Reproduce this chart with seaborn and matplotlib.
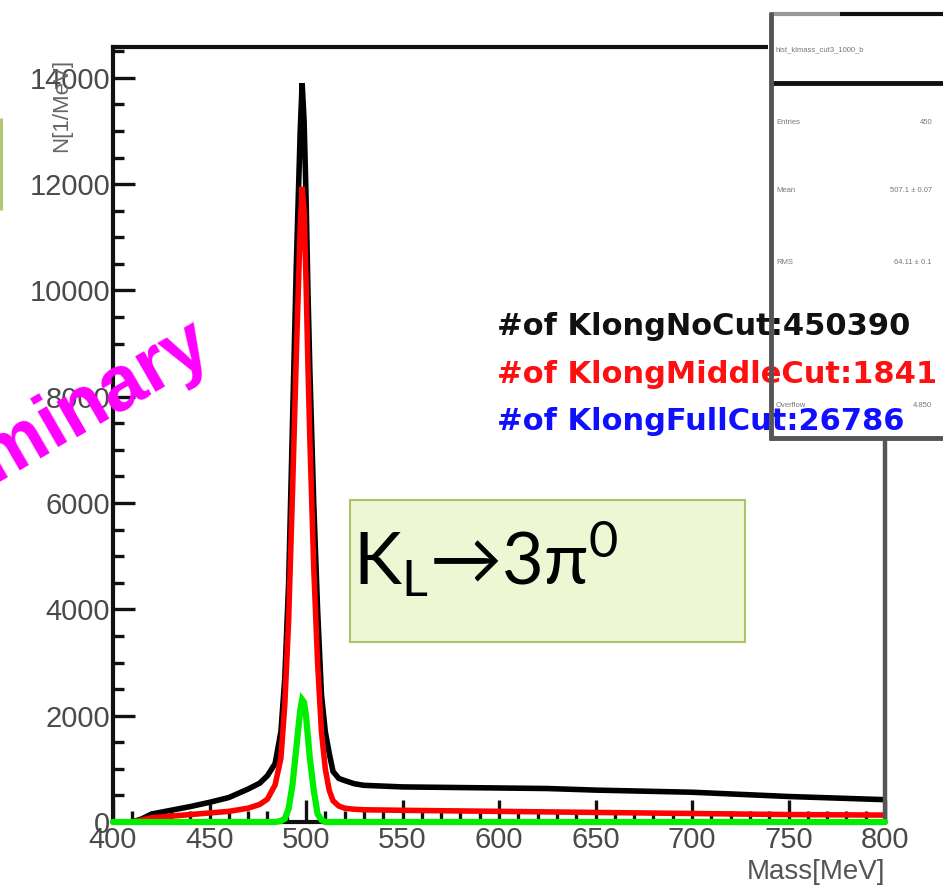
import numpy as np
import pandas as pd
import matplotlib
matplotlib.use("Agg")
import matplotlib.pyplot as plt
import seaborn as sns
from matplotlib.patches import Rectangle
from matplotlib.lines import Line2D

# ---- data ----
mass = [400, 405, 410, 415, 420, 430, 440, 450, 460, 470, 476, 480, 484, 487, 489,
        491, 493, 495, 497, 498, 499, 500, 501, 502, 504, 506, 508, 510, 512, 514,
        517, 520, 525, 530, 550, 575, 600, 625, 650, 675, 700, 725, 750, 775, 800]
no_cut = [0, 0, 0, 60, 150, 220, 290, 370, 460, 620, 730, 870, 1100, 1700, 2700,
          4500, 7500, 10500, 13000, 13900, 13200, 11800, 10000, 8500, 6000, 4000, 2400, 1700, 1300, 950,
          820, 780, 720, 690, 660, 650, 640, 630, 600, 580, 560, 520, 480, 450, 420]
middle_cut = [0, 0, 0, 40, 80, 110, 140, 170, 200, 260, 330, 430, 700, 1200, 2200,
              3800, 6200, 8800, 11200, 11950, 11500, 10200, 8600, 7200, 4800, 3000, 1700, 1000, 600, 400,
              300, 260, 240, 230, 220, 210, 200, 190, 180, 170, 160, 150, 140, 135, 130]
full_cut = [0, 0, 0, 0, 0, 0, 0, 0, 0, 0, 0, 0, 0, 20, 60,
            250, 700, 1400, 2100, 2300, 2250, 2000, 1600, 1200, 600, 150, 40, 0, 0, 0,
            0, 0, 0, 0, 0, 0, 0, 0, 0, 0, 0, 0, 0, 0, 0]
series_names = ["NoCut", "MiddleCut", "FullCut"]
series_colors = ["#000000", "#ff0000", "#00ee00"]
x_ticks = [400, 450, 500, 550, 600, 650, 700, 750, 800]
y_ticks = [0, 2000, 4000, 6000, 8000, 10000, 12000, 14000]
legend_lines = ["#of KlongNoCut:450390", "#of KlongMiddleCut:1841", "#of KlongFullCut:26786"]
legend_colors = ["#111111", "#ff1010", "#1010ff"]

W, H = 943, 888
sns.set_style("white")
plt.rcParams["font.family"] = ["Liberation Sans", "DejaVu Sans"]

fig = plt.figure(figsize=(W / 100, H / 100), dpi=100)
ax = fig.add_axes([113 / W, 1 - 822 / H, (885 - 113) / W, (822 - 47) / H])

df = pd.concat([pd.DataFrame({"mass": mass, "counts": v, "cut": n})
                for v, n in zip([no_cut, middle_cut, full_cut], series_names)], ignore_index=True)
sns.lineplot(data=df, x="mass", y="counts", hue="cut", hue_order=series_names,
             palette=dict(zip(series_names, series_colors)), linewidth=4.0,
             legend=False, ax=ax, estimator=None, sort=False, errorbar=None)
for i, ln in enumerate(ax.lines):
    ln.set_zorder(2 + i * 0.3)
    ln.set_solid_joinstyle("miter")
ax.lines[2].set_clip_on(False)
ax.lines[2].set_linewidth(4.5)
ax.lines[2].set_zorder(3.5)

ax.set_xlim(400, 800)
ax.set_ylim(0, 14580)
ax.set_xticks(x_ticks)
ax.set_yticks(y_ticks)
ax.set_xticklabels([str(t) for t in x_ticks])
ax.set_yticklabels([str(t) for t in y_ticks])
ax.set_xticks(np.arange(400, 801, 10), minor=True)
ax.set_yticks(np.arange(0, 14581, 500), minor=True)
ax.tick_params(which="major", direction="in", length=16, width=2.4, colors="#111111",
               labelcolor="#4a4a4a", labelsize=21, pad=2, top=False, right=False,
               left=True, bottom=True)
ax.tick_params(which="minor", direction="in", length=8, width=2.4, colors="#111111",
               top=False, right=False, left=True, bottom=True)
ax.tick_params(axis="x", which="major", pad=3)
ax.set_xlabel("")
ax.set_ylabel("")
for s in ["left", "bottom", "top"]:
    ax.spines[s].set_color("#111111")
    ax.spines[s].set_linewidth(3)
ax.spines["right"].set_color("#555555")
ax.spines["right"].set_linewidth(3.2)

# axis titles
fig.text(885 / W, 1 - 872 / H, "Mass[MeV]", ha="right", va="center", fontsize=20, color="#555555")
fig.text(62 / W, 1 - 105 / H, "N[1/MeV]", ha="center", va="center", rotation=90,
         fontsize=16, color="#666666")

# stats box (ROOT style), cut at right edge
fig.patches.append(Rectangle((768 / W, 1 - 440 / H), 1.0, (440 - 14) / H,
                             transform=fig.transFigure, facecolor="white", edgecolor="none", zorder=5))
def fline(x0, y0, x1, y1, color, lw, z=8):
    fig.lines.append(Line2D([x0 / W, x1 / W], [1 - y0 / H, 1 - y1 / H], transform=fig.transFigure,
                            color=color, linewidth=lw, zorder=z, solid_capstyle="butt"))
fline(770, 14, 840, 14, "#999999", 3)
fline(840, 14, 943, 14, "#111111", 3)
fline(770, 83, 943, 83, "#111111", 3.5)
fline(771, 12, 771, 440, "#555555", 3.5)
fline(769, 438, 943, 438, "#555555", 3.5)
stats_txt = [(50, "hist_klmass_cut3_1000_b", None), (122, "Entries", "450"),
             (190, "Mean", "507.1 ± 0.07"), (262, "RMS", "64.11 ± 0.1"), (405, "Overflow", "4.850")]
for y, lab, val in stats_txt:
    fig.text(776 / W, 1 - y / H, lab, ha="left", va="center", fontsize=5.5, color="#777777", zorder=6)
    if val:
        fig.text(932 / W, 1 - y / H, val, ha="right", va="center", fontsize=5.5, color="#777777", zorder=6)

# legend lines of text
for i, (t, c) in enumerate(zip(legend_lines, legend_colors)):
    fig.text(497 / W, 1 - (326 + 48 * i) / H, t, ha="left", va="center", fontsize=22,
             fontweight="bold", family=["DejaVu Sans"], color=c, zorder=6)

# K_L -> 3pi0 box
fig.patches.append(Rectangle((350 / W, 1 - 642 / H), 395 / W, 142 / H, transform=fig.transFigure,
                             facecolor="#eef7d3", edgecolor="#a9c46a", linewidth=1.5, zorder=4))
fig.text(353 / W, 1 - 585 / H, r"K$_\mathregular{L}$→3π$^\mathregular{0}$", ha="left", va="baseline",
         fontsize=52, color="#000000", family=["Lato", "DejaVu Sans"], zorder=6)

# "Preliminary" stamp (cut at left edge)
fig.text(215 / W, 1 - 355 / H, "Preliminary", ha="right", va="baseline", rotation=30,
         rotation_mode="anchor", fontsize=56, fontweight="bold", color="#ff00ff", zorder=6)

# green box edge at far left
fline(1, 118, 1, 210, "#a9c46a", 2)

fig.savefig("out.png", dpi=100)
